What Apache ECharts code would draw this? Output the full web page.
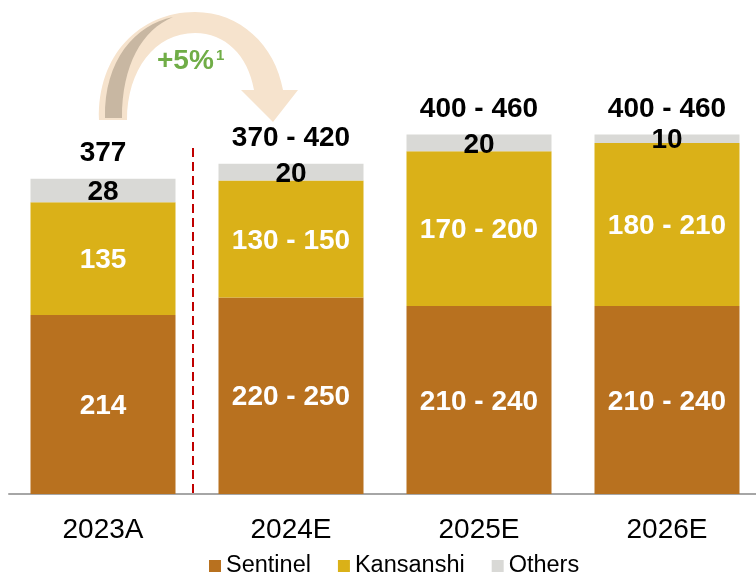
<!DOCTYPE html>
<html>
<head>
<meta charset="utf-8">
<script src="https://cdn.jsdelivr.net/npm/echarts@6/dist/echarts.min.js"></script>
<style>
html, body { margin: 0; padding: 0; background: #fff; overflow: hidden; }
#chart { width: 761px; height: 574px; }
</style>
</head>
<body>
<div id="chart"></div>
<script>
// 类目与数据（区间取中值作为柱高）
var years = ['2023A', '2024E', '2025E', '2026E'];
var sentinel = [214, 235, 225, 225];
var kansanshi = [135, 140, 185, 195];
var others = [28, 20, 20, 10];

// 柱上显示的文字
var sentinelLabels = ['214', '220 - 250', '210 - 240', '210 - 240'];
var kansanshiLabels = ['135', '130 - 150', '170 - 200', '180 - 210'];
var othersLabels = ['28', '20', '20', '10'];
var totalLabels = ['377', '370 - 420', '400 - 460', '400 - 460'];

var totals = years.map(function (y, i) {
    return sentinel[i] + kansanshi[i] + others[i];
});

var font = "'Liberation Sans', Arial, sans-serif";

// 弯箭头的形状
echarts.graphic.registerShape('growthArrow', echarts.graphic.extendPath(
    'M 99 120 C 97 55, 140 12, 195 12 C 240 12, 275 45, 283 90 ' +
    'L 298 90 L 273 122 L 241 90 L 254 90 ' +
    'C 248 55, 225 33, 195 33 C 155 33, 127 70, 127 120 Z'
));
echarts.graphic.registerShape('arrowShade', echarts.graphic.extendPath(
    'M 105 118 C 104 60, 135 25, 173 17 C 142 30, 122 65, 122 118 Z'
));

var chart = echarts.init(document.getElementById('chart'));

function barLabel(labels, color) {
    return {
        show: true,
        position: 'inside',
        offset: [0, 2],
        color: color,
        fontFamily: font,
        fontWeight: 'bold',
        fontSize: 28,
        formatter: function (p) { return labels[p.dataIndex]; }
    };
}

var option = {
    animation: false,
    textStyle: { fontFamily: font },
    grid: { left: 9, right: 0, top: 76, bottom: 80 },
    legend: {
        data: ['Sentinel', 'Kansanshi', 'Others'],
        left: 209,
        top: 554,
        padding: 0,
        icon: 'rect',
        itemWidth: 12,
        itemHeight: 12,
        itemGap: 27,
        textStyle: { fontSize: 23.5, color: '#000', fontFamily: font }
    },
    xAxis: {
        type: 'category',
        data: years,
        axisLine: { lineStyle: { color: '#A6A6A6', width: 2 } },
        axisTick: { show: false },
        axisLabel: { fontSize: 28, color: '#000', margin: 22, fontFamily: font }
    },
    yAxis: {
        type: 'value',
        min: 0,
        max: 500,
        show: false
    },
    series: [
        {
            name: 'Sentinel', type: 'bar', stack: 'total', barWidth: 145,
            itemStyle: { color: '#B8711F' },
            label: barLabel(sentinelLabels, '#fff'),
            data: sentinel
        },
        {
            name: 'Kansanshi', type: 'bar', stack: 'total', barWidth: 145,
            itemStyle: { color: '#DAB118' },
            label: barLabel(kansanshiLabels, '#fff'),
            data: kansanshi
        },
        {
            name: 'Others', type: 'bar', stack: 'total', barWidth: 145,
            itemStyle: { color: '#D9D9D6' },
            label: barLabel(othersLabels, '#000'),
            data: others
        },
        {
            name: 'Total', type: 'line',
            symbol: 'circle', symbolSize: 1,
            itemStyle: { color: 'rgba(0,0,0,0)' },
            lineStyle: { width: 0, opacity: 0 },
            label: {
                show: true,
                position: 'top',
                distance: 11,
                color: '#000',
                fontFamily: font,
                fontWeight: 'bold',
                fontSize: 28,
                formatter: function (p) { return totalLabels[p.dataIndex]; }
            },
            data: totals
        }
    ],
    graphic: [
        {
            type: 'growthArrow',
            style: { fill: '#F6E3CD' }
        },
        {
            type: 'arrowShade',
            style: { fill: '#C8B7A2' }
        },
        {
            type: 'text',
            x: 157, y: 61,
            style: {
                text: '+5%', fill: '#70AD47', font: 'bold 28px ' + font,
                verticalAlign: 'middle'
            }
        },
        {
            type: 'text',
            x: 216, y: 56,
            style: {
                text: '1', fill: '#70AD47', font: 'bold 15px ' + font,
                verticalAlign: 'middle'
            }
        },
        {
            type: 'line',
            shape: { x1: 193, y1: 148, x2: 193, y2: 494 },
            style: { stroke: '#C00000', lineWidth: 2, lineDash: [9, 5] }
        }
    ]
};

chart.setOption(option);
</script>
</body>
</html>
